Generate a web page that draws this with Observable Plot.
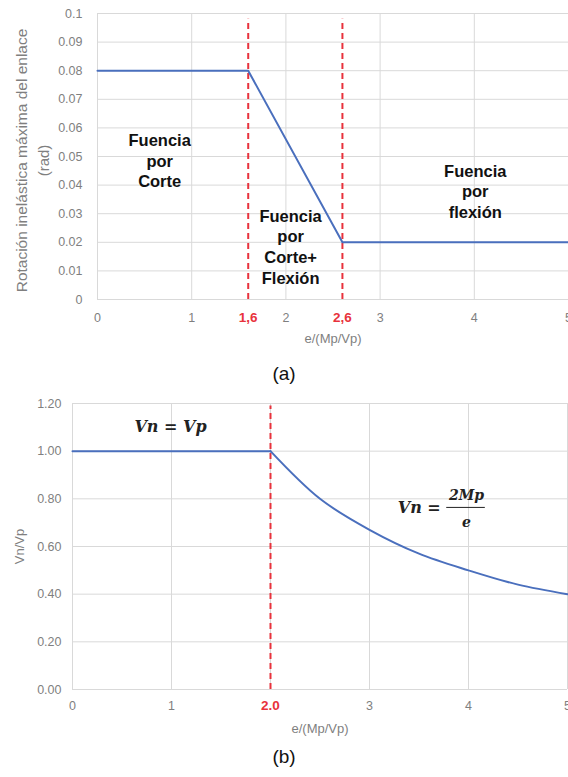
<!DOCTYPE html>
<html><head><meta charset="utf-8">
<script src="https://cdn.jsdelivr.net/npm/d3@7"></script>
<script src="https://cdn.jsdelivr.net/npm/@observablehq/plot@0.6"></script>
<style>
body{margin:0;background:#fff;font-family:"Liberation Sans",Arial,sans-serif;}
#wrap{position:relative;width:568px;height:777px;overflow:hidden;background:#fff;}
#a,#b{position:absolute;left:0;}
#a{top:0}
#b{top:390px}
.cap{position:absolute;left:0;width:568px;text-align:center;font-size:19px;line-height:22px;color:#111;}
</style></head><body>
<div id="wrap">
 <div id="a"></div>
 <div class="cap" style="top:363px">(a)</div>
 <div id="b"></div>
 <div class="cap" style="top:746px">(b)</div>
</div>
<script>
// ---------- Chart (a) data ----------
const ratioA = [0, 1.6, 2.6, 5];
const rotationA = [0.08, 0.08, 0.02, 0.02];
const limitsA = [1.6, 2.6];
const limitLabelsA = ["1,6", "2,6"];
const xTicksA = [0, 1, 2, 3, 4, 5];
const yTicksA = [0, 0.01, 0.02, 0.03, 0.04, 0.05, 0.06, 0.07, 0.08, 0.09, 0.1];
const yTickLabelsA = ["0", "0.01", "0.02", "0.03", "0.04", "0.05", "0.06", "0.07", "0.08", "0.09", "0.1"];
const zoneLabelsA = ["Fuencia\npor\nCorte", "Fuencia\npor\nCorte+\nFlexión", "Fuencia\npor\nflexión"];
const zoneXA = [0.66, 2.05, 4.01];
const zoneYA = [0.0488, 0.0187, 0.0381];

// ---------- Chart (b) data ----------
const ratioB = [0, 2, 2.5, 3, 3.5, 4, 4.5, 5];
const shearB = [1.00, 1.00, 0.80, 0.67, 0.57, 0.50, 0.44, 0.40];
const limitsB = [2];
const limitLabelsB = ["2.0"];
const xTicksB = [0, 1, 3, 4, 5];
const yTicksB = [0, 0.2, 0.4, 0.6, 0.8, 1.0, 1.2];
const yTickLabelsB = ["0.00", "0.20", "0.40", "0.60", "0.80", "1.00", "1.20"];

const BLUE = "#4a6fbd", RED = "#e8323c", GRID = "#d9d9d9", GREY = "#7f7f7f";
const FONT = "Liberation Sans, Arial, sans-serif";

const ptsA = ratioA.map((x, i) => ({x, y: rotationA[i]}));
const zonesA = zoneLabelsA.map((t, i) => ({t, x: zoneXA[i], y: zoneYA[i]}));

const chartA = Plot.plot({
  width: 568, height: 352,
  marginLeft: 97, marginRight: 0, marginTop: 13, marginBottom: 53,
  style: {fontFamily: FONT, background: "white", overflow: "visible"},
  x: {domain: [0, 5]},
  y: {domain: [0, 0.1]},
  marks: [
    Plot.gridY(yTicksA, {stroke: GRID, strokeOpacity: 1}),
    Plot.gridX(xTicksA, {stroke: GRID, strokeOpacity: 1}),
    Plot.axisY(yTicksA, {tickSize: 0, tickPadding: 15, fontSize: 12.5, fill: GREY,
      tickFormat: d => yTickLabelsA[yTicksA.indexOf(d)], label: null}),
    Plot.axisX(xTicksA, {tickSize: 0, tickPadding: 14, fontSize: 12.5, fill: GREY, label: null}),
    Plot.axisX(limitsA, {tickSize: 0, tickPadding: 13, fontSize: 13.5, fontWeight: "bold", fill: RED,
      tickFormat: d => limitLabelsA[limitsA.indexOf(d)], label: null}),
    Plot.ruleX(limitsA, {stroke: RED, strokeWidth: 2, strokeDasharray: "6,4", y1: 0, y2: 0.098}),
    Plot.line(ptsA, {x: "x", y: "y", stroke: BLUE, strokeWidth: 2}),
    Plot.text(zonesA, {x: "x", y: "y", text: "t", fontSize: 16.5, fontWeight: "bold", fill: "#111",
      lineHeight: 1.25}),
    Plot.text(["e/(Mp/Vp)"], {frameAnchor: "bottom", dy: 43, fontSize: 13, fill: GREY}),
    Plot.text(["Rotación inelástica máxima del enlace"], {frameAnchor: "left", textAnchor: "middle", dx: -75, dy: 4, rotate: -90, fontSize: 15.5, fill: GREY}),
    Plot.text(["(rad)"], {frameAnchor: "left", textAnchor: "middle", dx: -53, dy: 4, rotate: -90, fontSize: 15, fill: GREY})
  ]
});
document.getElementById("a").appendChild(chartA);

// ---------- Chart (b) ----------
const ptsB = ratioB.map((x, i) => ({x, y: shearB[i]}));
const flatB = ptsB.filter(d => d.x <= 2);
const curveB = ptsB.filter(d => d.x >= 2);

const chartB = Plot.plot({
  width: 568, height: 352,
  marginLeft: 72, marginRight: 1, marginTop: 13, marginBottom: 53,
  style: {fontFamily: FONT, background: "white", overflow: "visible"},
  x: {domain: [0, 5]},
  y: {domain: [0, 1.2]},
  marks: [
    Plot.gridY(yTicksB, {stroke: GRID, strokeOpacity: 1}),
    Plot.gridX([0, 1, 2, 3, 4, 5], {stroke: GRID, strokeOpacity: 1}),
    Plot.axisY(yTicksB, {tickSize: 0, tickPadding: 11, fontSize: 12.5, fill: GREY,
      tickFormat: d => yTickLabelsB[yTicksB.indexOf(d)], label: null}),
    Plot.axisX(xTicksB, {tickSize: 0, tickPadding: 12, fontSize: 12.5, fill: GREY, label: null}),
    Plot.axisX(limitsB, {tickSize: 0, tickPadding: 11, fontSize: 13.5, fontWeight: "bold", fill: RED,
      tickFormat: d => limitLabelsB[limitsB.indexOf(d)], label: null}),
    Plot.ruleX(limitsB, {stroke: RED, strokeWidth: 2, strokeDasharray: "6,4", y1: 0, y2: 1.19}),
    Plot.line(flatB, {x: "x", y: "y", stroke: BLUE, strokeWidth: 2}),
    Plot.line(curveB, {x: "x", y: "y", stroke: BLUE, strokeWidth: 2, curve: "catmull-rom"}),
    Plot.text(["Vn = Vp"], {x: 0.99, y: 1.10, fontFamily: "DejaVu Serif", fontStyle: "italic", fontWeight: "bold", fontSize: 16, fill: "#222"}),
    Plot.text(["Vn ="], {x: 3.72, y: 0.76, textAnchor: "end", fontFamily: "DejaVu Serif", fontStyle: "italic", fontWeight: "bold", fontSize: 16, fill: "#222"}),
    Plot.text(["2Mp"], {x: 3.98, y: 0.814, fontFamily: "DejaVu Serif", fontStyle: "italic", fontWeight: "bold", fontSize: 14, fill: "#222"}),
    Plot.text(["e"], {x: 3.98, y: 0.702, fontFamily: "DejaVu Serif", fontStyle: "italic", fontWeight: "bold", fontSize: 14, fill: "#222"}),
    Plot.ruleY([0.764], {x1: 3.78, x2: 4.17, stroke: "#222", strokeWidth: 1}),
    Plot.text(["e/(Mp/Vp)"], {frameAnchor: "bottom", dy: 43, fontSize: 13, fill: GREY}),
    Plot.text(["Vn/Vp"], {frameAnchor: "left", textAnchor: "middle", dx: -53, rotate: -90, fontSize: 13, fill: GREY})
  ]
});
document.getElementById("b").appendChild(chartB);
</script>
</body></html>
